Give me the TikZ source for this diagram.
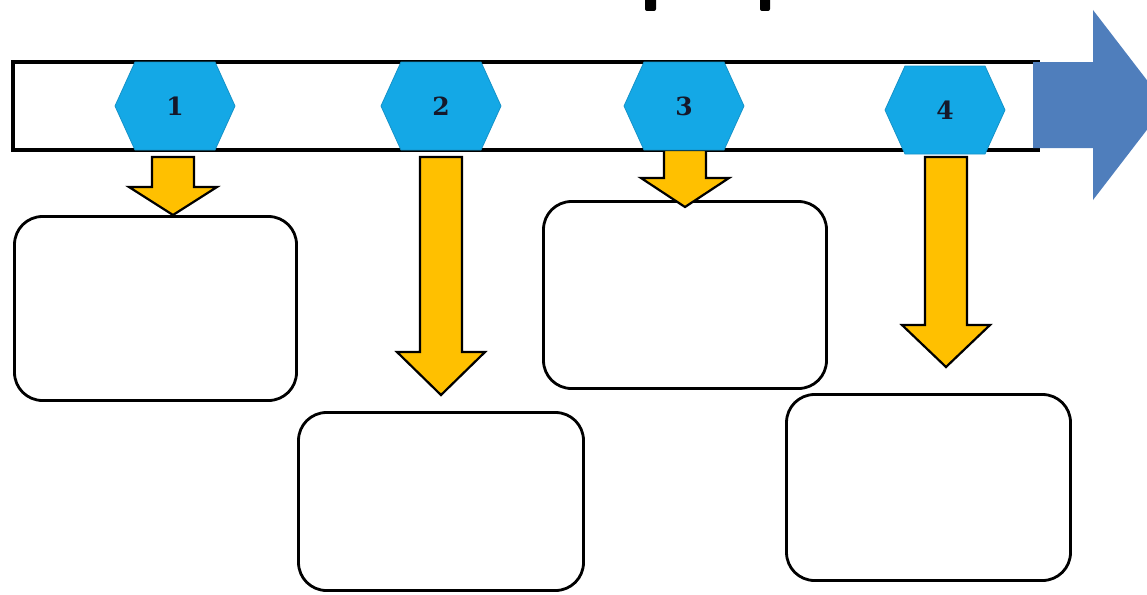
\documentclass[tikz,border=0pt]{standalone}
\usepackage{fontspec}
\newfontfamily\digitfont{DejaVu Serif}
\definecolor{hexblue}{HTML}{14A8E6}
\definecolor{hexedge}{HTML}{1492C8}
\definecolor{arrowblue}{HTML}{4F7EBC}
\definecolor{gold}{HTML}{FFC000}
\definecolor{numink}{HTML}{15182A}
\begin{document}
\begin{tikzpicture}[x=1pt,y=-1pt]
        % Define styles for the pieces
        \tikzstyle{box}=[draw,line width=2.8pt,rounded corners=28pt,inner sep=0pt]
        \tikzstyle{hexa}=[fill=hexblue,draw=hexedge,line width=0.8pt]
        \tikzstyle{pointer}=[fill=gold,draw=black,line width=2.2pt,line join=miter]
        \tikzstyle{digit}=[font=\digitfont\bfseries\fontsize{25}{25}\selectfont,text=numink,inner sep=0pt]
        \useasboundingbox (0,0) rectangle (1147,594);

        % Cut-off title marks at the top
        \fill[rounded corners=2pt] (645,-3) rectangle (656,11);
        \fill[rounded corners=2pt] (760,-3) rectangle (770,11);

        % Draw the time bar and its arrow
        \draw[line width=3.6pt] (1040,62) -- (13,62) -- (13,150) -- (1040,150);
        \fill[arrowblue] (1033,62) -- (1093,62) -- (1093,10) -- (1166,105) -- (1093,200) -- (1093,148) -- (1033,148) -- cycle;

        % Draw the boxes
        \node[box,minimum width=282pt,minimum height=184pt] (b1) at (155.5,308.5) {};
        \node[box,minimum width=285pt,minimum height=178pt] (b2) at (441,501.5) {};
        \node[box,minimum width=283pt,minimum height=187pt] (b3) at (685,295) {};
        \node[box,minimum width=284pt,minimum height=186pt] (b4) at (928.5,487.5) {};

        % Draw the down arrows
        \foreach \x/\top/\base/\tip in {173/157/187/215, 441/157/352/395, 685/150/178/207, 946/157/325/367}
          \draw[pointer] (\x-21,\top) -- (\x+21,\top) -- (\x+21,\base) -- (\x+44,\base) -- (\x,\tip) -- (\x-44,\base) -- (\x-21,\base) -- cycle;

        % Draw the hexagons with their numbers
        \foreach \n/\x/\y in {1/175/106, 2/441/106, 3/684/106, 4/945/110} {
          \draw[hexa] (\x,\y) ++(-60,0) -- ++(20,-44) -- ++(80,0) -- ++(20,44) -- ++(-20,44) -- ++(-80,0) -- cycle;
          \node[digit] (h\n) at (\x,\y) {\n};
        }
\end{tikzpicture}
\end{document}
